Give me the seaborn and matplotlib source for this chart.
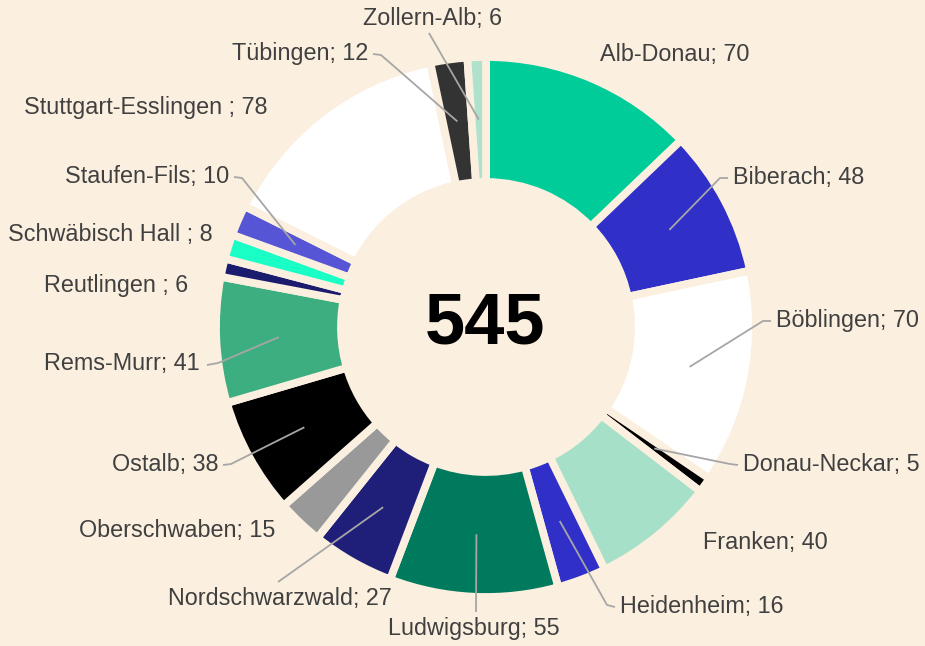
import matplotlib
matplotlib.use("Agg")
import matplotlib.pyplot as plt
import seaborn as sns
import numpy as np

# data
regions = ["Alb-Donau", "Biberach", "Böblingen", "Donau-Neckar", "Franken",
           "Heidenheim", "Ludwigsburg", "Nordschwarzwald", "Oberschwaben",
           "Ostalb", "Rems-Murr", "Reutlingen ", "Schwäbisch Hall ",
           "Staufen-Fils", "Stuttgart-Esslingen ", "Tübingen", "Zollern-Alb"]
members = [70, 48, 70, 5, 40, 16, 55, 27, 15, 38, 41, 6, 8, 10, 78, 12, 6]
colors = ["#00cc99", "#3030c8", "#ffffff", "#000000", "#a6e0c8",
          "#3030c8", "#007a5c", "#1f1f7a", "#999999", "#000000",
          "#3dae7f", "#1c1c6e", "#1affc6", "#5555d5", "#ffffff",
          "#333333", "#aee2cc"]
total = sum(members)

# layout (pixels of the 925x646 canvas)
CX, CY, S = 486, 327, 270   # donut centre and outer radius in px
INNER = 145
BG = "#fbefdf"
TXT = "#404040"
LINE = "#a6a6a6"

# label anchors: x, y, alignment, leader start points (None = no leader)
label_pos = [
    (600, 55, "left", None),
    (733, 178, "left", [(728, 178), (720, 178)]),
    (776, 321, "left", [(771, 321), (763, 321)]),
    (743, 465, "left", [(738, 465), (730, 464)]),
    (703, 543, "left", None),
    (620, 607, "left", [(615, 607), (607, 605)]),
    (474, 629, "center", [(476, 612)]),
    (392, 598, "right", [(278, 582)]),
    (275, 530, "right", None),
    (218, 465, "right", [(223, 465), (231, 464)]),
    (200, 364, "right", [(207, 365), (218, 363)]),
    (188, 286, "right", None),
    (213, 235, "right", None),
    (229, 177, "right", [(234, 177), (242, 178)]),
    (267, 108, "right", None),
    (368, 54, "right", [(373, 54), (381, 55)]),
    (432, 19, "center", [(429, 33)]),
]


def px(x, y):
    return (x - CX) / S, (CY - y) / S


sns.set_theme(style="white")
plt.rcParams["font.family"] = ["Liberation Sans", "DejaVu Sans"]

fig = plt.figure(figsize=(9.25, 6.46), dpi=100)
fig.patch.set_facecolor(BG)
ax = fig.add_axes([0, 0, 1, 1])
ax.set_facecolor(BG)

width = (S - INNER) / S
# white outline layer (beige stroke makes the gaps)
ax.pie(members, colors=["white"] * len(members), startangle=90,
       counterclock=False, radius=1,
       wedgeprops=dict(width=width, edgecolor=BG, linewidth=4.0))
# coloured fill layer, inset a little so the white outline shows
wedges, _ = ax.pie(members, colors=colors, startangle=90,
                   counterclock=False, radius=1,
                   wedgeprops=dict(width=width, edgecolor=BG, linewidth=5.6))

ax.set_aspect("auto")
ax.set_xlim(-CX / S, (925 - CX) / S)
ax.set_ylim((CY - 646) / S, CY / S)
ax.axis("off")

mid_r = 1 - width / 2
for w, name, val, (tx, ty, ha, pts) in zip(wedges, regions, members, label_pos):
    ang = np.deg2rad((w.theta1 + w.theta2) / 2)
    wx, wy = mid_r * np.cos(ang), mid_r * np.sin(ang)
    if pts is not None:
        xs = [px(*p)[0] for p in pts] + [wx]
        ys = [px(*p)[1] for p in pts] + [wy]
        ax.plot(xs, ys, color=LINE, lw=1.3, zorder=5, solid_capstyle="butt")
    x, y = px(tx, ty)
    ax.text(x, y, f"{name}; {val}", ha=ha, va="center", fontsize=16.8,
            color=TXT, zorder=6)

ax.text(*px(485, 325), f"{total}", ha="center", va="center",
        fontsize=52, fontweight="bold", color="black")

fig.savefig("out.png", dpi=100, facecolor=BG)
